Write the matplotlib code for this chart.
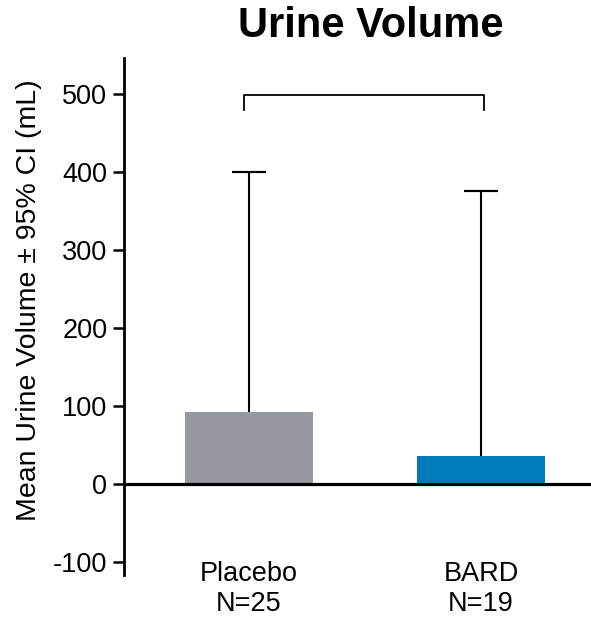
import matplotlib
matplotlib.use("Agg")
import matplotlib.pyplot as plt
import numpy as np

categories = ["Placebo\nN=25", "BARD\nN=19"]
means = [92, 36]
upper_ci = [400, 375]
colors = ["#96989f", "#007bba"]
yticks = [-100, 0, 100, 200, 300, 400, 500]
bracket_y = 499
bracket_drop = 479

plt.rcParams['font.family'] = ['Liberation Sans', 'DejaVu Sans']

fig = plt.figure(figsize=(5.91, 6.21), dpi=100)
ax = fig.add_axes([124/591, 46/621, 1 - 124/591, (575-58)/621])

x = np.arange(len(means))
ax.bar(x, means, width=0.552, color=colors, zorder=2)
# upper-only confidence interval whiskers with caps
ax.vlines(x, means, upper_ci, color='black', lw=1.5, zorder=1)
ax.errorbar(x, upper_ci, yerr=0, fmt='none', ecolor='black',
            elinewidth=0, capsize=12, capthick=1.5, zorder=1)
ax.axhline(0, color='black', lw=2.3, zorder=3)

ax.plot([-0.02, -0.02, 1.013, 1.013], [bracket_drop, bracket_y, bracket_y, bracket_drop],
        color='black', lw=1.3, clip_on=False)

ax.set_xlim(-0.539, 1.474)
ax.set_ylim(-117, 546)
ax.set_yticks(yticks)
ax.set_yticklabels([str(t) for t in yticks])
ax.set_xticks(x)
ax.set_xticklabels(categories, linespacing=1.2)
ax.tick_params(axis='x', length=0, pad=-10, labelsize=19.5)
ax.tick_params(axis='y', length=8, width=1.8, pad=4, labelsize=19.5)
for s in ['top', 'right', 'bottom']:
    ax.spines[s].set_visible(False)
ax.spines['left'].set_linewidth(2)
ax.set_ylabel("Mean Urine Volume ± 95% CI (mL)", fontsize=20.5)
ax.yaxis.set_label_coords(-0.176, 0.532)

fig.text(371/591, 1 - 26/621, "Urine Volume", ha='center', va='center',
         fontsize=30, fontweight='bold')

fig.savefig("out.png", dpi=100)
